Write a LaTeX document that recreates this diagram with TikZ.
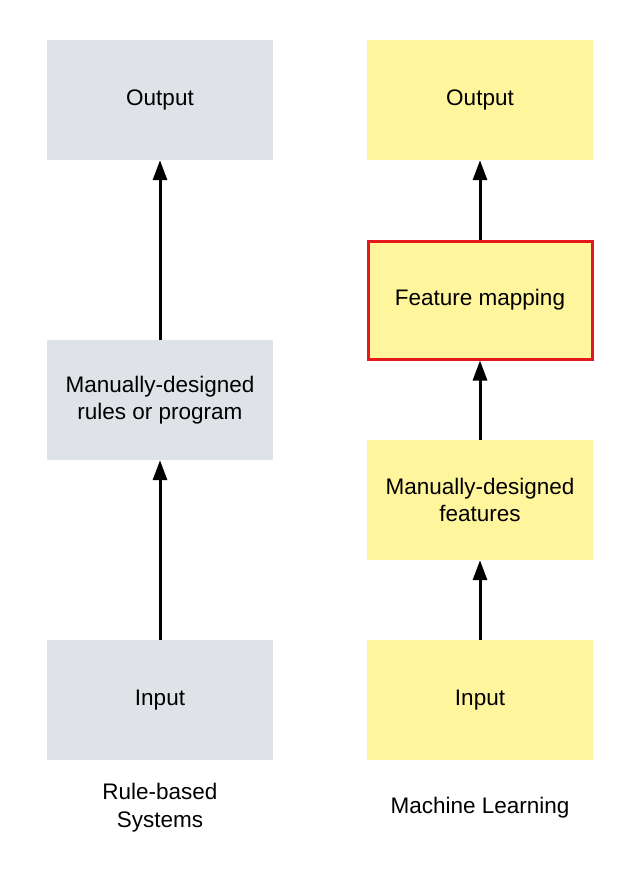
\documentclass[tikz,border=0pt]{standalone}
\usepackage{fontspec}
\setmainfont{Liberation Sans}
\usetikzlibrary{arrows.meta}
\definecolor{rulegray}{HTML}{DFE2E6}
\definecolor{mlyellow}{HTML}{FFF59D}
\definecolor{mapred}{HTML}{E5191C}
\tikzset{
    stage/.style={minimum width=226pt, minimum height=120pt, inner sep=0pt, align=center, font=\fontsize{22.5}{27}\selectfont},
    rulebox/.style={stage, fill=rulegray},
    mlbox/.style={stage, fill=mlyellow},
    flow/.style={-{Triangle[width=14pt,length=20pt]}, line width=3pt},
}

\begin{document}
\begin{tikzpicture}[x=1pt, y=-1pt]
    \useasboundingbox (0, 0) rectangle (640, 880);

    \node[rulebox] (rb_output) at (160, 100) {Output};
    \node[rulebox] (rb_rules) at (160, 400) {Manually-designed\\rules or program};
    \node[rulebox] (rb_input) at (160, 700) {Input};
    \node[align=center, font=\fontsize{22.5}{28}\selectfont] (rb_label) at (160, 808) {Rule-based\\Systems};

    \node[mlbox] (ml_output) at (480, 100) {Output};
    \node[mlbox, draw=mapred, line width=3pt, minimum width=224pt, minimum height=118pt] (ml_mapping) at (480, 300) {Feature mapping};
    \node[mlbox] (ml_features) at (480, 500) {Manually-designed\\features};
    \node[mlbox] (ml_input) at (480, 700) {Input};
    \node[font=\fontsize{22.5}{28}\selectfont] (ml_label) at (480, 808) {Machine Learning};

    \draw[flow] (rb_input.north) -- (rb_rules.south);
    \draw[flow] (rb_rules.north) -- (rb_output.south);

    \draw[flow] (ml_input.north) -- (ml_features.south);
    \draw[flow] (ml_features.north) -- (ml_mapping.south);
    \draw[flow] (ml_mapping.north) -- (ml_output.south);

\end{tikzpicture}
\end{document}
